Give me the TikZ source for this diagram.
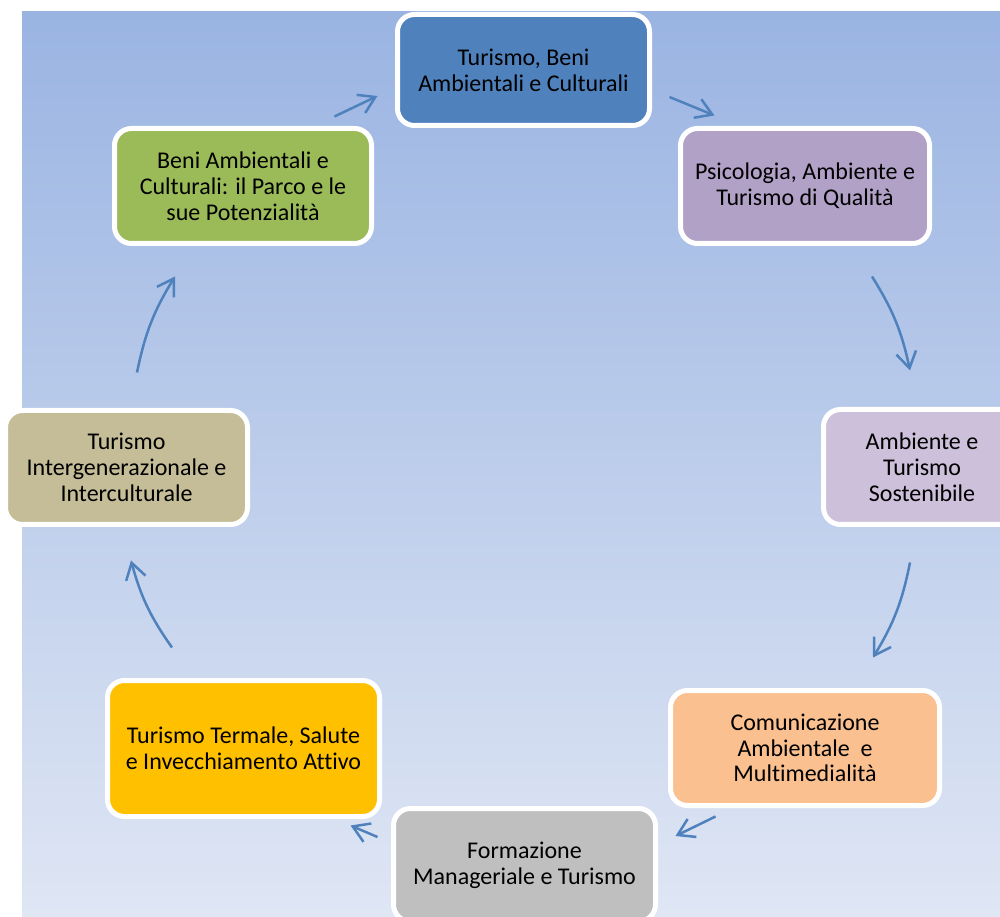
\documentclass[tikz,border=0pt]{standalone}
\usepackage{fontspec}
\setmainfont{Carlito}[Ligatures=CommonOff]
\usetikzlibrary{arrows.meta}

\definecolor{bgtop}{HTML}{9AB4E2}
\definecolor{bgbot}{HTML}{DFE6F4}
\definecolor{arrowblue}{HTML}{4F81BD}
\definecolor{turblue}{HTML}{4F81BD}
\definecolor{psililac}{HTML}{B2A1C7}
\definecolor{amblilac}{HTML}{CCC0DA}
\definecolor{comorange}{HTML}{FAC090}
\definecolor{forgrey}{HTML}{BFBFBF}
\definecolor{teryellow}{HTML}{FFC000}
\definecolor{intkhaki}{HTML}{C4BD97}
\definecolor{bengreen}{HTML}{9BBB59}

\begin{document}
\begin{tikzpicture}[x=0.5pt, y=0.5pt,
    card/.style n args={3}{rounded corners=8.5pt, draw=white, line width=2.5pt,
      fill=#1, minimum width=#2, minimum height=#3, inner sep=0pt,
      align=center, font=\fontsize{12}{12.9}\selectfont},
    flow/.style={draw=arrowblue, line width=1.25pt,
      -{Straight Barb[length=8pt, width=10pt]}}]
      % page and background
      \clip (0,0) rectangle (1000,916);
      \fill[white] (0,0) rectangle (1000,916);
      \shade[top color=bgtop, bottom color=bgbot] (22,0) rectangle (1000,904);
      % topics, clockwise from the top
      \node[card={turblue}{126pt}{55.5pt}] (tur) at (523.5,846) {Turismo, Beni\\Ambientali e Culturali};
      \node[card={psililac}{124.5pt}{57.5pt}] (psi) at (805,730) {Psicologia, Ambiente e\\Turismo di Qualità};
      \node[card={amblilac}{98.5pt}{57.5pt}] (amb) at (922,449) {Ambiente e\\Turismo\\Sostenibile};
      \node[card={comorange}{134.5pt}{57.5pt}] (com) at (805,168) {Comunicazione\\Ambientale\ \ e\\Multimedialità};
      \node[card={forgrey}{131pt}{56.5pt}] (for) at (524.5,51) {Formazione\\Manageriale e Turismo};
      \node[card={teryellow}{136pt}{68pt}] (ter) at (243.5,167.5) {Turismo Termale, Salute\\e Invecchiamento Attivo};
      \node[card={intkhaki}{121pt}{57pt}] (int) at (126.5,448.5) {Turismo\\Intergenerazionale e\\Interculturale};
      \node[card={bengreen}{128.5pt}{57.5pt}] (ben) at (243,730) {Beni Ambientali e\\Culturali: il Parco e le\\sue Potenzialità};
      % arrows
      \draw[flow] ([shift={(-39.5,9.5)}]ben.north east) -- ([shift={(-17.5,-26)}]tur.west);
      \draw[flow] ([shift={(17.5,-27)}]tur.east) -- ([shift={(36.5,10.5)}]psi.north west);
      \draw[flow] ([shift={(67,-30.5)}]psi.south) to[bend left=10] ([shift={(-12,36.5)}]amb.north);
      \draw[flow] ([shift={(-12,-35.5)}]amb.south) to[bend left=10] ([shift={(68,30.5)}]com.north);
      \draw[flow] ([shift={(47.5,-8.5)}]com.south west) -- ([shift={(17.5,29)}]for.east);
      \draw[flow] ([shift={(-13.5,28)}]for.west) -- ([shift={(-31.5,-6.5)}]ter.south east);
      \draw[flow] ([shift={(-71.5,30.5)}]ter.north) to[bend left=10] ([shift={(4.5,-33.5)}]int.south);
      \draw[flow] ([shift={(10.5,35.5)}]int.north) to[bend left=10] ([shift={(-68,-30.5)}]ben.south);
\end{tikzpicture}
\end{document}
